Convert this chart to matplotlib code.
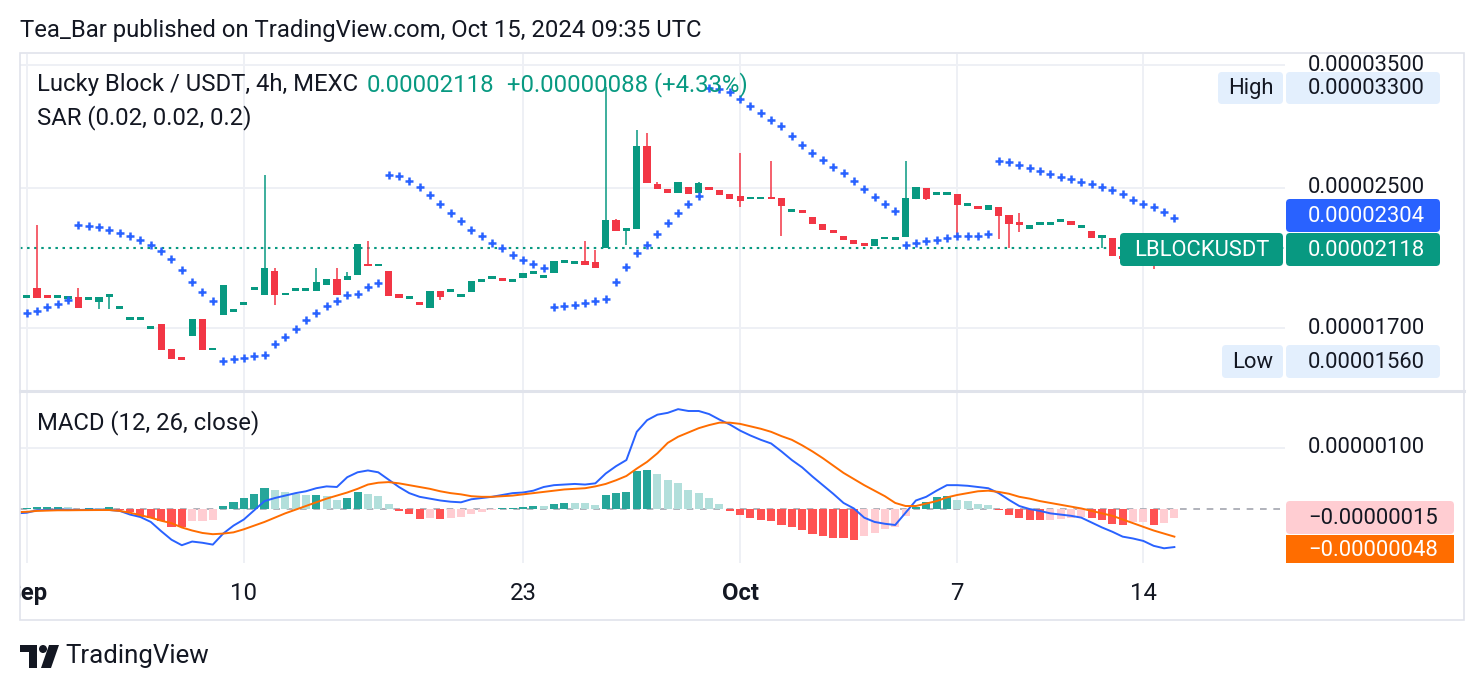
import numpy as np
import matplotlib.pyplot as plt
from matplotlib.patches import FancyBboxPatch, Rectangle, Polygon, Circle

plt.rcParams['font.family'] = ['Roboto', 'DejaVu Sans']

# prices in units of 1e-8 USDT, candle index -1 is the half hidden one at the left edge
idx = list(range(-1, 112))
opens = [1850, 1852, 1901, 1856, 1852, 1846, 1853, 1842, 1829, 1857, 1798, 1743, 1743, 1700, 1718, 1606, 1565,
         1666, 1745, 1604, 1765, 1783, 1817, 1896, 1864, 1991, 1866, 1889, 1889, 1885, 1915, 1947, 1942, 1970,
         2025, 2021, 1991, 1868, 1848, 1821, 1800, 1884, 1883, 1858, 1880, 1936, 1952, 1951, 1936, 1954, 1979,
         1958, 1978, 2043, 2034, 2045, 2040, 2119, 2290, 2224, 2234, 2806, 2525, 2493, 2464, 2507, 2464, 2505,
         2486, 2460, 2446, 2430, 2430, 2434, 2430, 2346, 2344, 2306, 2263, 2218, 2191, 2165, 2150, 2134, 2177,
         2173, 2187, 2426, 2500, 2462, 2460, 2460, 2388, 2382, 2355, 2375, 2318, 2269, 2236, 2265, 2265, 2286,
         2286, 2247, 2222, 2187, 2180, 2075, 2060, 2085, 2050, 2025, 2030]
highs = [1850, 1856, 2259, 1856, 1856, 1853, 1901, 1846, 1853, 1861, 1802, 1747, 1747, 1704, 1720, 1606, 1565,
         1745, 1745, 1608, 1915, 1787, 1821, 1900, 2591, 2007, 1870, 1893, 1893, 2007, 1947, 2007, 1985, 2144,
         2163, 2025, 1991, 1868, 1852, 1821, 1884, 1884, 1887, 1862, 1937, 1940, 1956, 1951, 1940, 1981, 1983,
         1962, 2045, 2047, 2038, 2161, 2109, 3300, 2295, 2232, 2932, 2910, 2541, 2493, 2541, 2507, 2541, 2505,
         2486, 2460, 2755, 2434, 2434, 2693, 2430, 2350, 2344, 2306, 2263, 2218, 2191, 2165, 2150, 2173, 2181,
         2177, 2693, 2507, 2500, 2475, 2464, 2460, 2392, 2382, 2388, 2375, 2318, 2335, 2259, 2269, 2269, 2290,
         2286, 2251, 2222, 2191, 2180, 2090, 2095, 2100, 2070, 2045, 2140]
lows = [1845, 1852, 1850, 1852, 1852, 1842, 1800, 1842, 1795, 1795, 1798, 1743, 1743, 1700, 1603, 1563, 1560,
        1666, 1603, 1604, 1765, 1783, 1817, 1896, 1864, 1814, 1866, 1889, 1889, 1885, 1915, 1864, 1942, 1970,
        2021, 2021, 1860, 1850, 1848, 1817, 1800, 1840, 1883, 1858, 1880, 1936, 1952, 1935, 1936, 1954, 1979,
        1958, 1978, 2043, 2034, 2022, 2009, 2119, 2224, 2140, 2234, 2536, 2491, 2464, 2464, 2457, 2464, 2488,
        2455, 2426, 2375, 2430, 2430, 2430, 2191, 2346, 2340, 2267, 2228, 2214, 2169, 2145, 2134, 2134, 2177,
        2173, 2187, 2426, 2419, 2462, 2460, 2197, 2388, 2357, 2355, 2175, 2119, 2218, 2236, 2265, 2265, 2286,
        2255, 2247, 2177, 2119, 2073, 2050, 2055, 2040, 2001, 2015, 2025]
closes = [1845, 1856, 1850, 1852, 1856, 1853, 1800, 1846, 1853, 1861, 1802, 1747, 1747, 1704, 1603, 1563, 1561,
          1745, 1603, 1608, 1915, 1787, 1821, 1900, 2007, 1864, 1870, 1893, 1893, 1930, 1947, 1864, 1964, 2144,
          2021, 2025, 1860, 1850, 1852, 1817, 1884, 1855, 1887, 1862, 1937, 1940, 1956, 1935, 1940, 1981, 1983,
          1962, 2045, 2047, 2038, 2022, 2009, 2290, 2224, 2232, 2806, 2536, 2491, 2464, 2541, 2457, 2535, 2488,
          2455, 2426, 2414, 2434, 2434, 2430, 2381, 2350, 2340, 2267, 2228, 2214, 2169, 2145, 2134, 2173, 2181,
          2177, 2432, 2507, 2426, 2466, 2464, 2384, 2392, 2357, 2388, 2312, 2263, 2265, 2259, 2269, 2269, 2290,
          2255, 2251, 2177, 2191, 2073, 2060, 2085, 2050, 2025, 2030, 2118]
sar = [np.nan, 1775, 1783, 1804, 1819, 1836, 2259, 2253, 2246, 2228, 2211, 2191, 2167, 2138, 2105, 2057, 1996,
       1933, 1879, 1833, 1555, 1564, 1567, 1577, 1581, 1627, 1662, 1697, 1737, 1771, 1806, 1834, 1864, 1868,
       1903, 1928, 2594, 2580, 2551, 2509, 2455, 2391, 2333, 2281, 2230, 2189, 2150, 2119, 2080, 2051, 2030,
       2007, 1803, 1808, 1813, 1821, 1834, 1845, 1933, 2014, 2093, 2140, 2203, 2269, 2336, 2392, 2446, 3287,
       3281, 3250, 3190, 3134, 3074, 3013, 2964, 2884, 2813, 2752, 2700, 2651, 2605, 2551, 2495, 2441, 2392,
       2347, 2138, 2151, 2163, 2167, 2179, 2191, 2193, 2193, 2205, 2693, 2685, 2664, 2644, 2620, 2598, 2578,
       2562, 2541, 2525, 2509, 2486, 2457, 2419, 2392, 2370, 2340, 2304]

# MACD pane, units of 1e-8
macd = [-7, -6, -2, -1.5, -1, -1, -1.5, -1, -1, -1.5, -3, -9, -13, -21, -36, -50, -59, -53, -55, -58, -40, -27,
        -17, -2, 13, 18, 22, 26, 29, 34, 37, 36, 52, 60, 63, 60, 48, 36, 26, 20, 17, 14, 12, 11, 16, 18, 20, 23,
        26, 27, 30, 36, 39, 40, 41, 40, 42, 58, 70, 80, 126, 145, 154, 157, 163, 160, 160, 155, 146, 138, 128,
        120, 113, 107, 94, 80, 68, 53, 39, 25, 10, 1, -14, -21, -24, -26, -6, 14, 20, 30, 39, 39, 38, 36, 34,
        26, 15, 5, 0, -3, -7, -9, -11, -14, -22, -30, -37, -45, -48, -52, -60, -64, -62]
signal = [-5, -4.5, -3, -2.5, -2, -2, -1.8, -1.7, -1.6, -1.6, -3, -6, -10, -14, -19, -23, -30, -35, -39, -41,
          -40, -38, -33, -27, -21, -14, -7, -1, 5, 11, 17, 22, 27, 33, 40, 43, 44, 42, 39, 36, 33, 29, 26, 24,
          21, 20, 20, 21, 22, 24, 26, 28, 30, 32, 33, 34, 37, 41, 47, 54, 66, 77, 91, 108, 118, 125, 132, 137,
          141, 141, 139, 135, 131, 126, 119, 113, 104, 94, 83, 71, 59, 49, 39, 30, 21, 10, 5, 5, 9, 13, 19, 23,
          26, 29, 30, 28, 25, 20, 17, 13, 10, 7, 4, 1, -3, -7, -11, -17, -23, -29, -35, -40, -45]
hist = [-1, 1, 2.7, 2.8, 3.8, 2.7, -1.6, 1.6, 1.6, 3.3, -1.6, -5.4, -12.5, -14.1, -19, -28.8, -29.9, -19, -19,
        -17.9, 4.9, 12, 17.4, 24.5, 34.8, 31, 28.3, 23.9, 22.3, 22.8, 21.2, 14.7, 17.4, 28.3, 24.5, 21.2, 8.2,
        -2.7, -8.7, -16.3, -14.1, -15.8, -14.1, -13, -8.7, -4.3, -2.2, 1.6, 1.8, 2.7, 4.3, 4.3, 7.6, 10.3, 10.3,
        9.2, 6.5, 22.8, 26.1, 27.7, 62, 63.6, 57, 47.3, 41.9, 31, 25.6, 17.9, 8.2, -2.7, -9.8, -14.1, -17.9,
        -19, -26.1, -29.9, -34.3, -40.8, -43.5, -46.8, -47.8, -50.6, -43.5, -38.6, -33, -29.4, -11.4, 3.8, 12,
        19, 21.2, 14.7, 13, 7.6, 6.5, -1.6, -9.8, -14.7, -17.4, -18.5, -17.4, -15.8, -14.7, -13.6, -15.2,
        -17.6, -24.1, -25.8, -21.5, -21, -25.3, -22.5, -15]

time_pos = [0, 21, 48, 69, 90, 108]
time_labels = ['Sep', '10', '23', 'Oct', '7', '14']
time_bold = [True, False, False, True, False, False]
price_ticks = [3500, 2500, 1700]
price_tick_labels = ['0.00003500', '0.00002500', '0.00001700']

GREEN = '#089981'
RED = '#f23645'
BLUE = '#2962ff'
ORANGE = '#ff6d00'
GRID = '#eef0f5'
TXT = '#131722'
FS = 17.2   # header, legend, time axis
FSP = 15.8  # price scale numbers

W, H = 1484, 690
fig = plt.figure(figsize=(W / 100, H / 100), dpi=100, facecolor='white')


def px_axes(x0, y0, x1, y1, **kw):
    a = fig.add_axes([x0 / W, 1 - y1 / H, (x1 - x0) / W, (y1 - y0) / H], **kw)
    a.axis('off')
    return a


XL = (-0.65, 121.7)
PL = (1435, 3612)
ML = (-88, 191)

# ---- price pane
ax = px_axes(20, 54, 1285, 390)
ax.set_yscale('log')
ax.set_ylim(*PL)
ax.set_xlim(*XL)
for v in price_ticks:
    ax.axhline(v, color=GRID, lw=1.4, zorder=0)
for t in time_pos:
    ax.axvline(t, color=GRID, lw=1.4, zorder=0)

x = np.array(idx)
o, hi, lo, c = map(np.array, (opens, highs, lows, closes))
cols = np.where(c >= o, GREEN, RED)
ax.vlines(x, lo, hi, colors=cols, lw=1.1, zorder=2)
top = np.maximum(o, c)
bot = np.minimum(o, c)
thin = top / bot < 1.008
mid = np.sqrt(top * bot)
top = np.where(thin, mid * 1.004, top)
bot = np.where(thin, mid / 1.004, bot)
ax.bar(x, top - bot, bottom=bot, width=0.7, color=cols, zorder=3)
ax.axhline(closes[-1], color=GREEN, lw=1.5, ls=(0, (1.2, 2.2)), zorder=1)
ax.plot(x, sar, '+', color=BLUE, ms=6, mew=1.8, zorder=4)

# ---- MACD pane
mx = px_axes(20, 392, 1285, 563)
mx.set_ylim(*ML)
mx.set_xlim(*XL)
mx.axhline(100, color=GRID, lw=1.4, zorder=0)
for t in time_pos:
    mx.axvline(t, color=GRID, lw=1.4, zorder=0)
mx.axhline(0, color='#a3a6af', lw=1.2, ls=(0, (4, 4)), zorder=1)
hcols = []
prev = 0
for hv in hist:
    if hv >= 0:
        hcols.append('#26a69a' if hv > prev else '#b2dfdb')
    else:
        hcols.append('#ff5252' if hv < prev else '#ffcdd2')
    prev = hv
mx.bar(x, hist, width=0.78, color=hcols, zorder=2)
mx.plot(x, macd, color=BLUE, lw=1.4, zorder=3)
mx.plot(x, signal, color=ORANGE, lw=1.4, zorder=3)

# ---- time axis
tx = px_axes(20, 563, 1285, 620)
tx.set_xlim(*XL)
tx.set_ylim(0, 1)
for t, lab, b in zip(time_pos, time_labels, time_bold):
    tx.text(t, 0.46, lab, ha='center', va='center', fontsize=FS, color=TXT,
            fontweight='bold' if b else 'normal', clip_on=True)

# ---- price scales
ps = px_axes(1285, 54, 1464, 390)
ps.set_yscale('log')
ps.set_ylim(*PL)
ps.set_xlim(0, 179)
for v, lab in zip(price_ticks, price_tick_labels):
    ps.text(81, v, lab, ha='center', va='center', fontsize=FSP, color=TXT, clip_on=True)
ms = px_axes(1285, 392, 1464, 563)
ms.set_ylim(*ML)
ms.set_xlim(0, 179)
ms.text(81, 100, '0.00000100', ha='center', va='center', fontsize=FSP, color=TXT, clip_on=True)

# ---- overlay: frame, labels, header, logo
fg = px_axes(0, 0, W, H)
fg.set_xlim(0, W)
fg.set_ylim(H, 0)
fg.set_zorder(10)
fg.patch.set_alpha(0)
fg.add_patch(Rectangle((20, 53), 1444, 567, fill=False, ec='#e0e3eb', lw=1.2))
fg.plot([20, 1464], [390.7, 390.7], color='#e0e3eb', lw=2.2)


def box(x0, y0, x1, y1, fc, text, tc, cx=None):
    fg.add_patch(FancyBboxPatch((x0, y0), x1 - x0, y1 - y0, boxstyle='round,pad=0,rounding_size=4',
                                fc=fc, ec='none', zorder=5))
    fg.text((x0 + x1) / 2 if cx is None else cx, (y0 + y1) / 2 + 0.5, text, ha='center', va='center',
            fontsize=FSP, color=tc, zorder=6)


box(1218, 72, 1283, 104, '#e3effd', 'High', TXT)
box(1286, 72, 1440, 104, '#e3effd', '0.00003300', TXT, cx=1366)
box(1286, 199, 1440, 232, BLUE, '0.00002304', 'white', cx=1366)
box(1120, 233, 1283, 266, GREEN, 'LBLOCKUSDT', 'white')
box(1286, 233, 1440, 266, GREEN, '0.00002118', 'white', cx=1366)
box(1222, 345, 1283, 378, '#e3effd', 'Low', TXT)
box(1286, 345, 1440, 378, '#e3effd', '0.00001560', TXT, cx=1366)
box(1286, 501, 1454, 534, '#ffcdd2', '\u22120.00000015', TXT, cx=1373)
fg.add_patch(Rectangle((1286, 535), 168, 28, fc=ORANGE, ec='none', zorder=5))
fg.text(1373, 550, '\u22120.00000048', ha='center', va='center', fontsize=FSP, color='white', zorder=6)

fg.text(20, 31, 'Tea_Bar published on TradingView.com, Oct 15, 2024 09:35 UTC', ha='left', va='center',
        fontsize=FS, color=TXT)
fg.text(37, 85, 'Lucky Block / USDT, 4h, MEXC', ha='left', va='center', fontsize=FS, color=TXT)
fg.text(367, 85, '0.00002118', ha='left', va='center', fontsize=FS, color=GREEN)
fg.text(507, 85, '+0.00000088 (+4.33%)', ha='left', va='center', fontsize=FS, color=GREEN)
fg.text(37, 118, 'SAR (0.02, 0.02, 0.2)', ha='left', va='center', fontsize=FS, color=TXT)
fg.text(37, 423, 'MACD (12, 26, close)', ha='left', va='center', fontsize=FS, color=TXT)

# TradingView logo + wordmark
fg.add_patch(Rectangle((20, 645), 17, 7, fc=TXT, ec='none'))
fg.add_patch(Rectangle((29, 645), 8, 23, fc=TXT, ec='none'))
fg.add_patch(Circle((43, 649), 4, fc=TXT, ec='none'))
fg.add_patch(Polygon([(49, 645), (59, 645), (51, 668), (41, 668)], closed=True, fc=TXT, ec='none'))
fg.text(65, 656, 'TradingView', ha='left', va='center', fontsize=18.6, color=TXT)

fig.savefig('out.png', dpi=100, facecolor='white')
